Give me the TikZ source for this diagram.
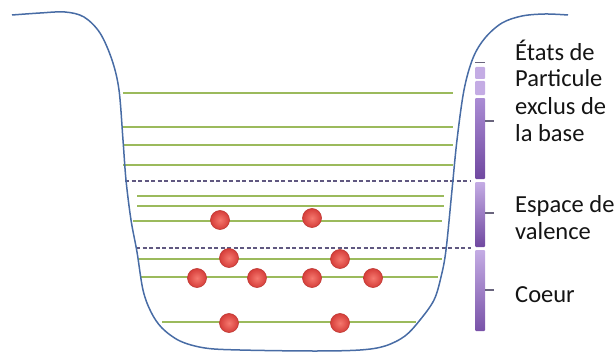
\documentclass[tikz,border=0pt]{standalone}
\usepackage{fontspec}
\setmainfont{Carlito}
\begin{document}
\begin{tikzpicture}[x=1pt,y=-1pt,
  wellline/.style={draw=wellblue, line width=1.5pt, line join=round},
  level/.style={draw=levelgreen, line width=2.8pt},
  cut/.style={draw=cutgray, line width=1.5pt, dash pattern=on 4pt off 2.5pt},
  particle/.style={circle, inner sep=0pt, minimum size=19pt, draw=partedge, line width=0.6pt,
    inner color=partlight, outer color=partdark},
  seg/.style={rounded corners=1pt},
  tick/.style={draw=tickgray, line width=1.1pt},
  label/.style={anchor=base west, inner sep=0pt, text=textdark, font=\fontsize{24.5}{27}\selectfont}]

\definecolor{wellblue}{RGB}{72,108,165}
\definecolor{levelgreen}{RGB}{155,186,92}
\definecolor{cutgray}{RGB}{96,88,128}
\definecolor{partedge}{RGB}{190,55,50}
\definecolor{partlight}{RGB}{245,120,110}
\definecolor{partdark}{RGB}{214,62,58}
\definecolor{tickgray}{RGB}{105,100,125}
\definecolor{textdark}{RGB}{20,20,20}
\definecolor{barlight}{RGB}{196,172,228}
\definecolor{barmid}{RGB}{170,140,212}
\definecolor{bardark}{RGB}{112,72,160}

\useasboundingbox (0,0) rectangle (616,353);

% energy levels
\draw[level] (123,93) -- (453,93);
\draw[level] (123,127) -- (453,127);
\draw[level] (123,145) -- (453,145);
\draw[level] (123,165) -- (453,165);
\draw[level] (137,196) -- (444,196);
\draw[level] (137,206) -- (444,206);
\draw[level] (133,221) -- (442,221);
\draw[level] (139,259) -- (442,259);
\draw[level] (140,277) -- (438,277);
\draw[level] (162,322) -- (416,322);

% boundaries between the spaces
\draw[cut] (125,181) -- (471,181);
\draw[cut] (136,248) -- (471,248);

% the potential well
\draw[wellline] plot[smooth, tension=0.55] coordinates {
  (12,15) (40,13) (65,12) (84,17) (100,33) (112,60) (119,90) (123,140)
  (126,180) (131,220) (137,252) (143,290) (151,312) (162,328) (180,341)
  (205,348) (240,350) (314,351) (360,350) (385,346) (405,336) (420,320)
  (434,300) (441,277) (446,250) (452,190) (457,140) (464,90) (473,58)
  (485,38) (502,23) (522,16) (545,14) (568,15)};

% particles
\node[particle] (v1) at (220,220) {};
\node[particle] (v2) at (312,218) {};
\node[particle] (c1) at (229,258) {};
\node[particle] (c2) at (340,259) {};
\node[particle] (c3) at (197,278) {};
\node[particle] (c4) at (257,278) {};
\node[particle] (c5) at (312,278) {};
\node[particle] (c6) at (373,278) {};
\node[particle] (c7) at (229,323) {};
\node[particle] (c8) at (340,323) {};

% side bar
\draw[tick, line width=0.8pt] (475,62.5) -- (485,62.5);
\fill[seg, barlight] (475,67) rectangle (485,79);
\fill[seg, barlight] (475,81) rectangle (485,95);
\shade[seg, top color=barmid, bottom color=bardark] (475,98) rectangle (485,179);
\shade[seg, top color=barlight, bottom color=bardark] (475,182) rectangle (485,247);
\shade[seg, top color=barlight, bottom color=bardark!85!barmid] (475,250) rectangle (485,331);
\draw[tick] (485,121) -- (494,121);
\draw[tick] (485,213) -- (494,213);
\draw[tick] (485,290) -- (494,290);

% labels
\node[label] (l1) at (515,60) {États de};
\node[label] (l2) at (515,87) {Particule};
\node[label] (l3) at (515,114) {exclus de};
\node[label] (l4) at (515,141) {la base};
\node[label] (l5) at (515,212) {Espace de};
\node[label] (l6) at (515,239) {valence};
\node[label] (l7) at (515,302) {Coeur};
\end{tikzpicture}
\end{document}
